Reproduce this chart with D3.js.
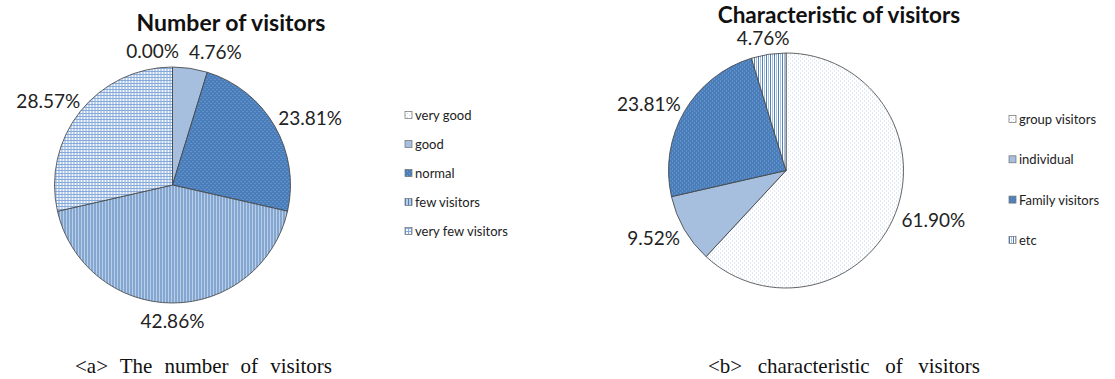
<!DOCTYPE html>
<html>
<head>
<meta charset="utf-8">
<script src="https://cdn.jsdelivr.net/npm/d3@7"></script>
<style>
  body { margin: 0; background: #ffffff; }
  svg { display: block; }
</style>
</head>
<body>
<svg id="fig" width="1115" height="379"></svg>
<script>
// ---- data ----
const visitorCategories = ["very good", "good", "normal", "few visitors", "very few visitors"];
const visitorShares = [0.00, 4.76, 23.81, 42.86, 28.57];

const characterCategories = ["group visitors", "individual", "Family visitors", "etc"];
const characterShares = [61.90, 9.52, 23.81, 4.76];

const chartTitles = ["Number of visitors", "Characteristic of visitors"];
const captions = ["<a> The number of visitors", "<b> characteristic of visitors"];

// ---- fills (pattern id per category) ----
const visitorFills = ["dotsLight", "solidLight", "dotsDark", "vStripes", "grid"];
const characterFills = ["dotsLight", "solidLight", "dotsDark", "vStripesWide"];

const svg = d3.select("#fig");
const defs = svg.append("defs");

function makePattern(id, w, h, bg, pieces) {
  const p = defs.append("pattern")
    .attr("id", id)
    .attr("patternUnits", "userSpaceOnUse")
    .attr("width", w).attr("height", h);
  p.append("rect").attr("width", w).attr("height", h).attr("fill", bg);
  pieces.forEach(q => p.append("rect")
    .attr("x", q[0]).attr("y", q[1]).attr("width", q[2]).attr("height", q[3])
    .attr("fill", q[4]));
}

makePattern("dotsLight", 4, 4, "#ffffff", [[0, 0, 1, 1, "#c3d5ec"], [2, 2, 1, 1, "#c3d5ec"]]);
makePattern("solidLight", 4, 4, "#a7bfde", []);
makePattern("dotsDark", 4, 4, "#4a7ebb", [[0, 0, 1, 1, "#7ea3d3"], [2, 2, 1, 1, "#7ea3d3"]]);
makePattern("vStripes", 3, 3, "#b9cde6", [[0, 0, 1, 3, "#4f81bd"]]);
makePattern("grid", 3, 3, "#f4f8fd", [[0, 0, 1, 3, "#86aadb"], [0, 0, 3, 1, "#86aadb"]]);
makePattern("vStripesWide", 4, 4, "#ffffff", [[0, 0, 1, 4, "#4f81bd"], [2, 0, 1, 4, "#a7c0de"]]);

const labelFont = "Lato, 'Open Sans', sans-serif";

function drawPie(cfg) {
  const g = svg.append("g");
  const pie = d3.pie().sort(null).value(d => d);
  const arcs = pie(cfg.values);
  const arc = d3.arc().innerRadius(0).outerRadius(cfg.r);

  const pieG = g.append("g").attr("transform", `translate(${cfg.cx},${cfg.cy})`);
  pieG.selectAll("path.slice")
    .data(arcs)
    .join("path")
    .attr("class", "slice")
    .attr("d", arc)
    .attr("fill", (d, i) => `url(#${cfg.fills[i]})`)
    .attr("stroke", "#3f3f3f")
    .attr("stroke-width", 0.8)
    .attr("stroke-linejoin", "round");

  // outside-end data labels
  const fmt = v => d3.format(".2f")(v) + "%";
  const labels = g.selectAll("text.lbl")
    .data(arcs)
    .join("text")
    .attr("class", "lbl")
    .attr("font-family", labelFont)
    .attr("font-size", 19)
    .attr("fill", "#222")
    .attr("text-anchor", "middle")
    .attr("dominant-baseline", "central")
    .text(d => fmt(d.data));

  const gap = 9;
  const boxes = [];
  labels.each(function (d) {
    const w = this.getComputedTextLength();
    const h = 14;
    const a = (d.startAngle + d.endAngle) / 2;
    const s = Math.sin(a), c = Math.cos(a);
    const px = cfg.cx + (cfg.r + gap) * s;
    const py = cfg.cy - (cfg.r + gap) * c;
    boxes.push({ node: this, w, h, x: px + (w / 2) * s, y: py - (h / 2 + 1) * c });
  });
  // push overlapping labels apart horizontally
  for (let it = 0; it < 20; it++) {
    for (let i = 0; i < boxes.length; i++) {
      for (let j = i + 1; j < boxes.length; j++) {
        const A = boxes[i], B = boxes[j];
        const ox = (A.w + B.w) / 2 + 10 - Math.abs(A.x - B.x);
        const oy = (A.h + B.h) / 2 - Math.abs(A.y - B.y);
        if (ox > 0 && oy > 0) {
          const dir = A.x <= B.x ? -1 : 1;
          A.x += dir * ox / 2;
          B.x -= dir * ox / 2;
        }
      }
    }
  }
  boxes.forEach(b => d3.select(b.node).attr("x", b.x).attr("y", b.y));

  // title
  g.append("text")
    .attr("x", cfg.titleX).attr("y", cfg.titleY)
    .attr("text-anchor", "middle")
    .attr("font-family", labelFont)
    .attr("font-weight", "bold")
    .attr("font-size", cfg.titleSize)
    .attr("fill", "#111")
    .text(cfg.title);

  // legend
  const leg = g.selectAll("g.leg")
    .data(cfg.categories)
    .join("g")
    .attr("class", "leg")
    .attr("transform", (d, i) => `translate(${cfg.legendX},${cfg.legendY + i * cfg.legendStep})`);
  leg.append("rect")
    .attr("x", 0).attr("y", -3.5)
    .attr("width", 7).attr("height", 7)
    .attr("fill", (d, i) => `url(#${cfg.fills[i]})`)
    .attr("stroke", "#6d6d6d")
    .attr("stroke-width", 0.7);
  leg.append("text")
    .attr("x", 10).attr("y", 0)
    .attr("dominant-baseline", "central")
    .attr("font-family", labelFont)
    .attr("font-size", 13)
    .attr("fill", "#222")
    .text(d => d);

  // caption, spread to its line width
  const cap = svg.append("text")
    .attr("x", cfg.capX).attr("y", 373)
    .attr("font-family", "'Liberation Serif', 'DejaVu Serif', serif")
    .attr("font-size", 21)
    .attr("fill", "#111")
    .text(cfg.caption);
  const spaces = (cfg.caption.match(/ /g) || []).length;
  const extra = (cfg.capWidth - cap.node().getComputedTextLength()) / spaces;
  cap.attr("word-spacing", Math.max(0, extra));
}

drawPie({
  values: visitorShares, categories: visitorCategories, fills: visitorFills,
  cx: 172.5, cy: 185, r: 118,
  title: chartTitles[0], titleX: 231, titleY: 31, titleSize: 23,
  legendX: 405, legendY: 115, legendStep: 29,
  caption: captions[0], capX: 75, capWidth: 257
});

drawPie({
  values: characterShares, categories: characterCategories, fills: characterFills,
  cx: 786, cy: 170.5, r: 117.5,
  title: chartTitles[1], titleX: 839, titleY: 23, titleSize: 22.5,
  legendX: 1009, legendY: 119, legendStep: 40.3,
  caption: captions[1], capX: 708, capWidth: 272
});
</script>
</body>
</html>
